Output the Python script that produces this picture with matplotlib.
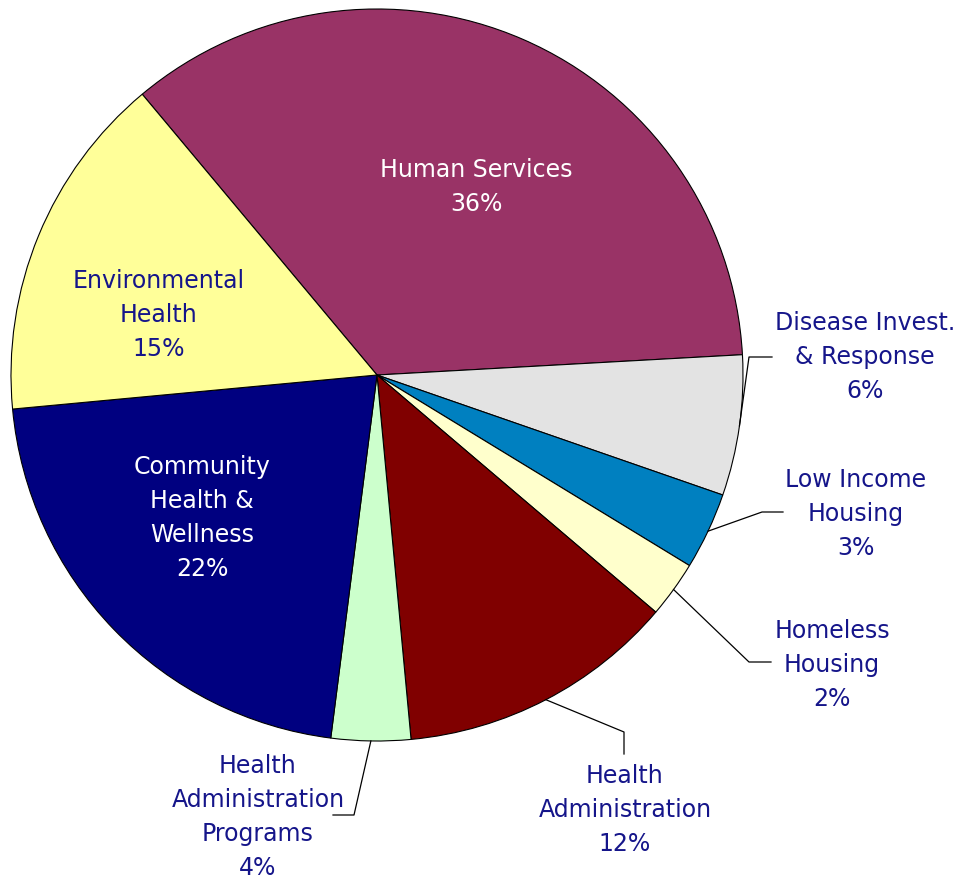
import numpy as np
import matplotlib
matplotlib.use("Agg")
import matplotlib.pyplot as plt

# slices, clockwise from the top-left
categories = ["Human Services", "Disease Invest.\n& Response", "Low Income\nHousing",
              "Homeless\nHousing", "Health\nAdministration", "Health\nAdministration\nPrograms",
              "Community\nHealth &\nWellness", "Environmental\nHealth"]
shares = [35.2, 6.2, 3.4, 2.5, 12.3, 3.5, 21.5, 15.4]
pct_labels = [36, 6, 3, 2, 12, 4, 22, 15]   # as printed on the chart
colors = ["#993366", "#E3E3E3", "#0080C0", "#FFFFCC", "#800000", "#CCFFCC", "#000080", "#FFFF99"]
text_colors = ["white", "#15158a", "#15158a", "#15158a", "#15158a", "#15158a", "white", "#15158a"]

# pixel geometry of the reference picture
W, H = 962, 881
CX, CY, R = 377, 375, 366


def px(x, y):
    # pixel position -> data units (pie radius = 1)
    return (x - CX) / R, (CY - y) / R


# label centres (pixels) and leader lines (elbow, end) for outside labels
label_pos = [(476, 187), (865, 357), (856, 514), (832, 665), (625, 810),
             (258, 817), (202, 518), (159, 315)]
leaders = {1: [(749, 357), (772, 357)],
           2: [(762, 512), (783, 512)],
           3: [(749, 662), (771, 662)],
           4: [(624, 732), (624, 754)],
           5: [(354, 815), (333, 815)]}

fig = plt.figure(figsize=(W / 100, H / 100), dpi=100)
ax = fig.add_axes([0, 0, 1, 1])

wedges, _ = ax.pie(shares, colors=colors, startangle=129.9, counterclock=False,
                   radius=1, wedgeprops=dict(edgecolor="black", linewidth=0.8))

for i, w in enumerate(wedges):
    txt = "%s\n%d%%" % (categories[i], pct_labels[i])
    x, y = px(*label_pos[i])
    ax.text(x, y, txt, ha="center", va="center", fontsize=17, color=text_colors[i],
            linespacing=1.53, family="DejaVu Sans")
    if i in leaders:
        mid = np.deg2rad((w.theta1 + w.theta2) / 2)
        pts = [(np.cos(mid), np.sin(mid))] + [px(*p) for p in leaders[i]]
        xs, ys = zip(*pts)
        ax.plot(xs, ys, color="black", linewidth=0.9)

ax.set_xlim(px(0, 0)[0], px(W, 0)[0])
ax.set_ylim(px(0, H)[1], px(0, 0)[1])
ax.axis("off")

fig.savefig("out.png", dpi=100)
